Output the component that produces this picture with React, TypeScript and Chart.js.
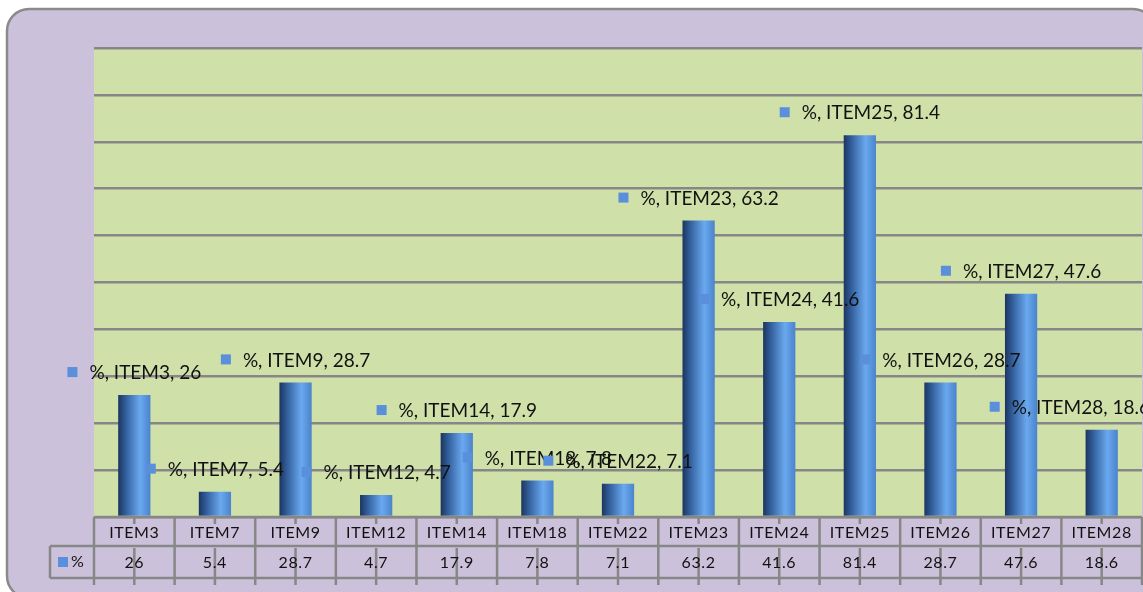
import React, { useEffect, useRef } from "react";
import { Chart, registerables } from "chart.js";
Chart.register(...registerables);

const categories = ["ITEM3", "ITEM7", "ITEM9", "ITEM12", "ITEM14", "ITEM18", "ITEM22", "ITEM23", "ITEM24", "ITEM25", "ITEM26", "ITEM27", "ITEM28"];
const values = [26, 5.4, 28.7, 4.7, 17.9, 7.8, 7.1, 63.2, 41.6, 81.4, 28.7, 47.6, 18.6];
const seriesName = "%";
const yMin = 0;
const yMax = 100;
const yStep = 10;

const W = 1160;
const H = 600;
const FONT = "Lato, 'Liberation Sans', sans-serif";
const PURPLE = "#cbc1da";
const GREEN = "#d0e0a9";
const GRID = "#878787";
const KEY = "#5a8fdb";

function roundRect(ctx: CanvasRenderingContext2D, x: number, y: number, w: number, h: number, r: number) {
  ctx.beginPath();
  ctx.moveTo(x + r, y);
  ctx.lineTo(x + w - r, y);
  ctx.arcTo(x + w, y, x + w, y + r, r);
  ctx.lineTo(x + w, y + h - r);
  ctx.arcTo(x + w, y + h, x + w - r, y + h, r);
  ctx.lineTo(x + r, y + h);
  ctx.arcTo(x, y + h, x, y + h - r, r);
  ctx.lineTo(x, y + r);
  ctx.arcTo(x, y, x + r, y, r);
  ctx.closePath();
}

const backgroundPlugin = {
  id: "bg",
  beforeDraw(chart: any) {
    const ctx = chart.ctx as CanvasRenderingContext2D;
    const ca = chart.chartArea;
    ctx.save();
    roundRect(ctx, 7, 9, 1148, 589, 22);
    ctx.fillStyle = PURPLE;
    ctx.fill();
    ctx.lineWidth = 2.5;
    ctx.strokeStyle = "#8a8a8a";
    ctx.stroke();
    ctx.fillStyle = GREEN;
    ctx.fillRect(ca.left, ca.top, ca.right - ca.left, ca.bottom - ca.top);
    ctx.restore();
  },
};

const labelPlugin = {
  id: "labels",
  afterDatasetsDraw(chart: any) {
    const ctx = chart.ctx as CanvasRenderingContext2D;
    const ca = chart.chartArea;
    const meta = chart.getDatasetMeta(0);
    ctx.save();
    ctx.font = `19px ${FONT}`;
    ctx.textBaseline = "middle";
    ctx.textAlign = "left";
    meta.data.forEach((bar: any, i: number) => {
      const text = `${seriesName}, ${categories[i]}, ${values[i]}`;
      const tw = ctx.measureText(text).width;
      const total = 10 + 12 + tw;
      let left = bar.x - total / 2;
      const maxRight = ca.right + 8;
      if (left + total > maxRight) left = maxRight - total;
      const cy = bar.y - 23;
      ctx.fillStyle = KEY;
      ctx.fillRect(left, cy - 5, 10, 10);
      ctx.fillStyle = "#111";
      ctx.fillText(text, left + 22, cy + 1);
    });
    ctx.restore();
  },
};

const tablePlugin = {
  id: "table",
  afterDraw(chart: any) {
    const ctx = chart.ctx as CanvasRenderingContext2D;
    const ca = chart.chartArea;
    const xs = chart.scales.x;
    const n = categories.length;
    const cw = (ca.right - ca.left) / n;
    const r0 = ca.bottom;
    const r1 = r0 + 29;
    const r2 = r0 + 61;
    const ext = r0 + 68;
    const keyLeft = 50;
    ctx.save();
    ctx.strokeStyle = GRID;
    ctx.lineWidth = 2.5;
    ctx.beginPath();
    ctx.moveTo(ca.left, r0); ctx.lineTo(ca.right, r0);
    ctx.moveTo(keyLeft, r1); ctx.lineTo(ca.right, r1);
    ctx.moveTo(keyLeft, r2); ctx.lineTo(ca.right, r2);
    ctx.moveTo(keyLeft, r1); ctx.lineTo(keyLeft, r2);
    for (let i = 0; i <= n; i++) {
      const x = ca.left + i * cw;
      ctx.moveTo(x, r0); ctx.lineTo(x, ext);
    }
    for (let i = 0; i < n; i++) {
      const x = xs.getPixelForValue(i);
      ctx.moveTo(x, r0); ctx.lineTo(x, r0 + 7);
      ctx.moveTo(x, r1 + 2); ctx.lineTo(x, ext);
    }
    ctx.stroke();

    ctx.fillStyle = "#111";
    ctx.font = `16px ${FONT}`;
    (ctx as any).letterSpacing = "0.6px";
    ctx.textAlign = "center";
    ctx.textBaseline = "middle";
    for (let i = 0; i < n; i++) {
      const x = xs.getPixelForValue(i);
      ctx.fillText(categories[i], x, (r0 + r1) / 2 + 1);
      ctx.fillText(String(values[i]), x, (r1 + r2) / 2 + 1);
    }
    ctx.fillStyle = KEY;
    ctx.fillRect(keyLeft + 8, (r1 + r2) / 2 - 5, 10, 10);
    ctx.fillStyle = "#111";
    ctx.textAlign = "left";
    ctx.fillText(seriesName, keyLeft + 21, (r1 + r2) / 2);
    ctx.restore();
  },
};

export default function App() {
  const ref = useRef<HTMLCanvasElement | null>(null);
  useEffect(() => {
    if (!ref.current) return;
    const chart = new Chart(ref.current, {
      type: "bar",
      data: {
        labels: categories,
        datasets: [
          {
            label: seriesName,
            data: values,
            backgroundColor: (c: any) => {
              const ch = c.chart;
              const xs = ch.scales && ch.scales.x;
              if (!ch.chartArea || !xs || c.dataIndex == null) return "#4a86d6";
              const cx = xs.getPixelForValue(c.dataIndex);
              const half = ((ch.chartArea.right - ch.chartArea.left) / categories.length) * 0.4 / 2;
              const g = ch.ctx.createLinearGradient(cx - half, 0, cx + half, 0);
              g.addColorStop(0, "#1c355f");
              g.addColorStop(0.25, "#34619f");
              g.addColorStop(0.68, "#6aa9ef");
              g.addColorStop(1, "#4a83cb");
              return g;
            },
            borderWidth: 0,
            categoryPercentage: 1,
            barPercentage: 0.4,
          },
        ],
      },
      options: {
        animation: false,
        responsive: false,
        maintainAspectRatio: false,
        layout: { padding: { left: 94, top: 48, right: W - 1142, bottom: H - 517 } },
        plugins: { legend: { display: false }, tooltip: { enabled: false } },
        scales: {
          x: { display: false },
          y: {
            min: yMin,
            max: yMax,
            ticks: { display: false, stepSize: yStep },
            grid: { color: GRID, lineWidth: 2.5, drawTicks: false },
            border: { display: false },
          },
        },
      },
      plugins: [backgroundPlugin, labelPlugin, tablePlugin],
    });
    return () => chart.destroy();
  }, []);
  return (
    <div style={{ position: "fixed", left: 0, top: 0, width: 1143, height: 592, overflow: "hidden", background: "#fff" }}>
      <canvas ref={ref} width={W} height={H} style={{ display: "block", width: W, height: H }} />
    </div>
  );
}
